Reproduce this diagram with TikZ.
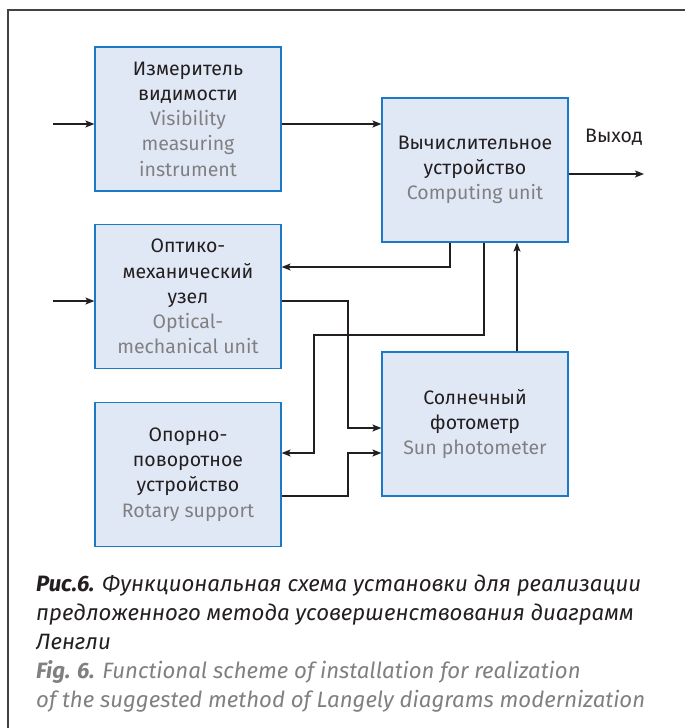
\documentclass[tikz,border=0pt]{standalone}
\usepackage{fontspec}
\setmainfont{Fira Sans}
\usetikzlibrary{positioning}
\usetikzlibrary{calc}
\usetikzlibrary{arrows.meta}
\definecolor{boxfill}{RGB}{225,232,245}
\definecolor{boxline}{RGB}{26,122,198}
\definecolor{ink}{RGB}{35,31,32}
\definecolor{engl}{RGB}{128,128,130}
\tikzset{
  unit/.style={draw=boxline, fill=boxfill, line width=1.2pt, minimum width=186pt,
    minimum height=144pt, align=center, inner sep=0pt, text=ink,
    font=\fontsize{19.5}{25.2}\selectfont},
  link/.style={draw=ink, line width=1.1pt, -{Stealth[length=9pt,width=7pt,inset=2pt]}},
  capline/.style={anchor=base west, inner sep=0pt, font=\fontsize{22.2}{29}\selectfont\itshape},
}
\newcommand{\en}[1]{\textcolor{engl}{#1}}
\begin{document}
\begin{tikzpicture}[x=1pt, y=-1pt]
\useasboundingbox (0,0) rectangle (685,728);
% frame
\draw[ink!85, line width=1.2pt] (8,728) -- (8,10) -- (685,10);

% blocks
\node[unit] (vis) at (188,119) {Измеритель\\видимости\\\en{Visibility}\\\en{measuring}\\\en{instrument}};
\node[unit] (comp) at (475,170) {Вычислительное\\устройство\\\en{Computing unit}};
\node[unit] (opt) at (188,296.5) {Оптико-\\механический\\узел\\\en{Optical-}\\\en{mechanical unit}};
\node[unit] (sun) at (475,424) {Солнечный\\фотометр\\\en{Sun photometer}};
\node[unit] (rot) at (188,474.5) {Опорно-\\поворотное\\устройство\\\en{Rotary support}};

% inputs and output
\coordinate (in1) at (53,124);
\coordinate (in2) at (53,301);
\coordinate (out) at (644,174);
\draw[link] (in1) -- (in1 -| vis.west);
\draw[link] (in2) -- (in2 -| opt.west);
\draw[link] (in1 -| vis.east) -- (in1 -| comp.west);
\draw[link] (out -| comp.east) -- (out);
\node[anchor=base, inner sep=0pt, text=ink, font=\fontsize{19.5}{25}\selectfont] (exit) at (614,142) {Выход};

% feedback lines
\coordinate (c1) at (450,267);
\coordinate (c2) at (484,335);
\coordinate (c3) at (314,453);
\coordinate (s1) at (517,352);
\coordinate (j1) at (348,428);
\coordinate (j2) at (348,453);
\coordinate (j3) at (348,496);
\draw[link] (c1 |- comp.south) -- (c1) -- (c1 -| opt.east);
\draw[link] (c2 |- comp.south) -- (c2) -| (c3) -- (c3 -| rot.east);
\draw[link] (s1 |- sun.north) -- (s1 |- comp.south);
\draw[link] (in2 -| opt.east) -| (j1) -- (j1 -| sun.west);
\draw[link] (j3 -| rot.east) -- (j3) -- (j2) -- (j2 -| sun.west);

% caption
\node[capline, text=ink] (cap1) at (36,591) {\textbf{Рис.6.} Функциональная схема установки для реализации};
\node[capline, text=ink] (cap2) at (36,620) {предложенного метода усовершенствования диаграмм};
\node[capline, text=ink] (cap3) at (36,649) {Ленгли};
\node[capline, text=engl] (cap4) at (36,678) {\textbf{Fig. 6.} Functional scheme of installation for realization};
\node[capline, text=engl] (cap5) at (36,707) {of the suggested method of Langely diagrams modernization};
\end{tikzpicture}
\end{document}
